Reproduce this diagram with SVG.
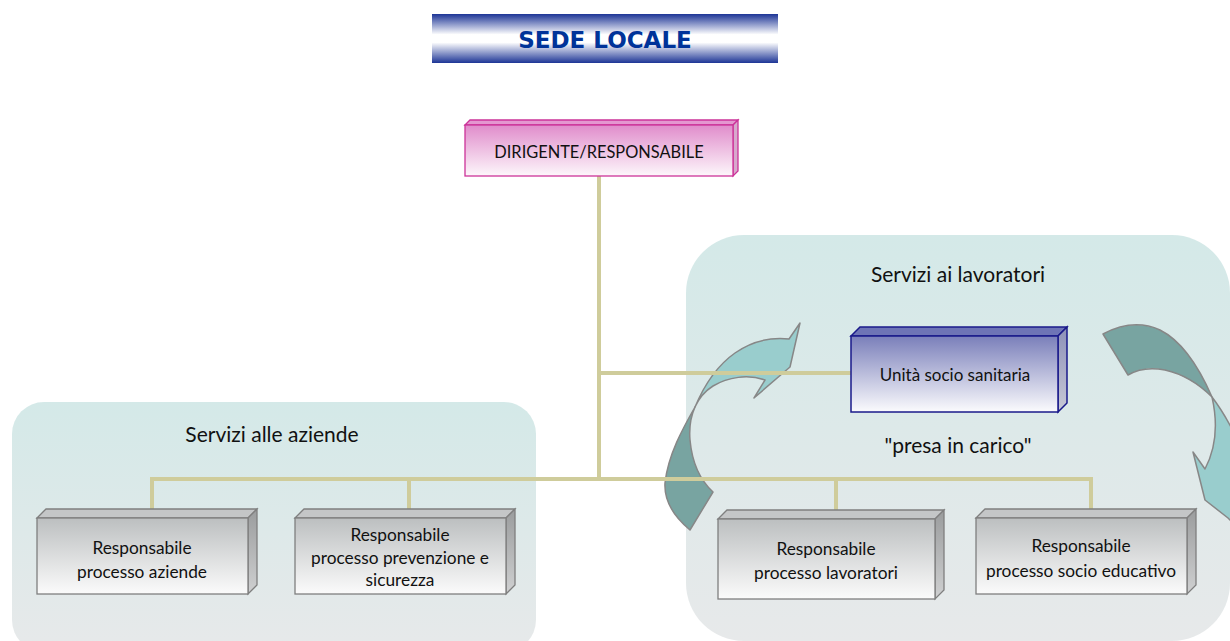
<svg xmlns="http://www.w3.org/2000/svg" width="1230" height="641" viewBox="0 0 1230 641">
<defs>
<linearGradient id="gBanner" x1="0" y1="0" x2="0" y2="1">
<stop offset="0" stop-color="#1d3596"/><stop offset="0.42" stop-color="#ffffff"/><stop offset="0.58" stop-color="#ffffff"/><stop offset="1" stop-color="#1d3596"/>
</linearGradient>
<linearGradient id="gPanel" x1="0" y1="0" x2="0" y2="1">
<stop offset="0" stop-color="#d4e9e8"/><stop offset="1" stop-color="#e7e9ea"/>
</linearGradient>
<linearGradient id="gGray" x1="0" y1="0" x2="0" y2="1">
<stop offset="0" stop-color="#bcbfc0"/><stop offset="1" stop-color="#fbfbfb"/>
</linearGradient>
<linearGradient id="gGraySide" x1="0" y1="0" x2="0" y2="1">
<stop offset="0" stop-color="#9a9c9d"/><stop offset="1" stop-color="#cfd0d1"/>
</linearGradient>
<linearGradient id="gPink" x1="0" y1="0" x2="0" y2="1">
<stop offset="0" stop-color="#e08ccb"/><stop offset="1" stop-color="#fdf7fb"/>
</linearGradient>
<linearGradient id="gBlue" x1="0" y1="0" x2="0" y2="1">
<stop offset="0" stop-color="#7a7fba"/><stop offset="1" stop-color="#fbfbfd"/>
</linearGradient>
<linearGradient id="gBlueSide" x1="0" y1="0" x2="0" y2="1">
<stop offset="0" stop-color="#8d90b8"/><stop offset="1" stop-color="#c8c9d6"/>
</linearGradient>
</defs>
<style>
.lbl{font-family:Lato,"Open Sans",sans-serif;fill:#111111;text-anchor:middle}
.box{font-size:17.3px}
.panel{font-size:21px}
.con{stroke:#cfcc9b;stroke-width:4;fill:none;stroke-linecap:square}
.gbox .front{fill:url(#gGray);stroke:#7f7f7f;stroke-width:1.3}
.gbox .top{fill:#c4c6c7;stroke:#7f7f7f;stroke-width:1.3}
.gbox .side{fill:url(#gGraySide);stroke:#7f7f7f;stroke-width:1.3}
.arrow{stroke:#878787;stroke-width:1.5;stroke-linejoin:round}
.light{fill:#99cdcd}
.dark{fill:#78a4a1}
</style>

<g id="panel-aziende">
<rect x="12" y="402" width="524" height="250" rx="32" fill="url(#gPanel)"/>
<text class="lbl panel" x="272" y="442">Servizi alle aziende</text>
</g>
<g id="panel-lavoratori">
<rect x="686" y="235" width="544" height="406" rx="58" fill="url(#gPanel)"/>
<text class="lbl panel" x="958" y="282">Servizi ai lavoratori</text>
<text class="lbl panel" x="958" y="453" font-size="21.5">"presa in carico"</text>
</g>

<g id="title">
<rect x="432" y="14" width="346" height="49" fill="url(#gBanner)"/>
<text x="605" y="48" font-family="'DejaVu Sans',Verdana,sans-serif" font-weight="bold" font-size="23" fill="#003399" text-anchor="middle">SEDE LOCALE</text>
</g>

<g id="arrow-left">
<path class="arrow dark" d="M695,407 C683,428 668,455 665,483 C664,500 672,515 690,530 L713,492 C700,480 692,462 690,440 C689,428 691,416 695,407 Z"/>
<path class="arrow light" d="M695,407 C703,388 715,367 735,353 C752,341 770,337 789,339 L800,323 L790,367 L754,398 L765,380 C748,374 728,377 713,386 C705,391 699,398 695,407 Z"/>
</g>
<g id="arrow-right">
<path class="arrow dark" d="M1103,334 C1120,325 1140,321 1160,330 C1182,341 1198,365 1212,397 C1200,385 1183,374 1165,370 C1150,367 1138,369 1128,375 Z"/>
<path class="arrow light" d="M1212,397 C1222,410 1232,428 1240,445 L1240,530 L1228,518 L1205,500 L1193,452 L1205,469 C1214,452 1219,428 1212,397 Z"/>
</g>

<g id="connectors">
<path class="con" d="M599,178 V479"/>
<path class="con" d="M599,373 H849"/>
<path class="con" d="M152,479 H1091"/>
<path class="con" d="M152,479 V508"/>
<path class="con" d="M409,479 V508"/>
<path class="con" d="M836,479 V508"/>
<path class="con" d="M1091,479 V508"/>
</g>

<g id="node-dirigente">
<polygon points="465,125 470,120 738,120 733,125" fill="#e497d0" stroke="#cc3399" stroke-width="1.3"/>
<polygon points="733,125 738,120 738,171 733,176" fill="#d7a9cc" stroke="#cc3399" stroke-width="1.3"/>
<rect x="465" y="125" width="268" height="51" fill="url(#gPink)" stroke="#cc3399" stroke-width="1.3"/>
<text class="lbl" x="599" y="158" font-size="16.4">DIRIGENTE/RESPONSABILE</text>
</g>

<g id="node-unita">
<polygon points="851,336 860,327 1067,327 1058,336" fill="#6e74b6" stroke="#1a1a8a" stroke-width="1.5"/>
<polygon points="1058,336 1067,327 1067,403 1058,412" fill="url(#gBlueSide)" stroke="#1a1a8a" stroke-width="1.5"/>
<rect x="851" y="336" width="207" height="76" fill="url(#gBlue)" stroke="#1a1a8a" stroke-width="1.5"/>
<text class="lbl" x="955" y="381" font-size="17">Unità socio sanitaria</text>
</g>

<g id="node-aziende" class="gbox">
<polygon class="top" points="37,518 46,509 257,509 248,518"/>
<polygon class="side" points="248,518 257,509 257,585 248,594"/>
<rect class="front" x="37" y="518" width="211" height="76"/>
<text class="lbl box" x="142" y="554">Responsabile</text>
<text class="lbl box" x="142" y="578">processo aziende</text>
</g>

<g id="node-prevenzione" class="gbox">
<polygon class="top" points="295,518 304,509 515,509 506,518"/>
<polygon class="side" points="506,518 515,509 515,585 506,594"/>
<rect class="front" x="295" y="518" width="211" height="76"/>
<text class="lbl box" x="400" y="541">Responsabile</text>
<text class="lbl box" x="400" y="564">processo prevenzione e</text>
<text class="lbl box" x="400" y="586">sicurezza</text>
</g>

<g id="node-lavoratori" class="gbox">
<polygon class="top" points="718,519 727,510 944,510 935,519"/>
<polygon class="side" points="935,519 944,510 944,590 935,599"/>
<rect class="front" x="718" y="519" width="217" height="80"/>
<text class="lbl box" x="826" y="555">Responsabile</text>
<text class="lbl box" x="826" y="579">processo lavoratori</text>
</g>

<g id="node-socioeducativo" class="gbox">
<polygon class="top" points="976,518 985,509 1196,509 1187,518"/>
<polygon class="side" points="1187,518 1196,509 1196,585 1187,594"/>
<rect class="front" x="976" y="518" width="211" height="76"/>
<text class="lbl box" x="1081" y="552">Responsabile</text>
<text class="lbl box" x="1081" y="577">processo socio educativo</text>
</g>
</svg>
